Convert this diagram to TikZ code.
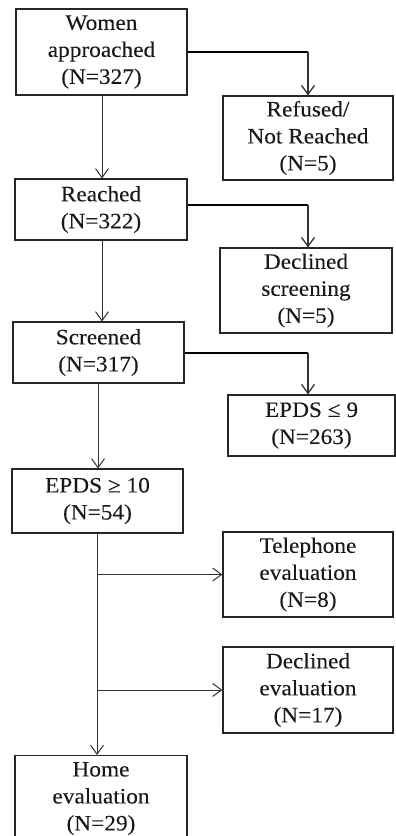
\documentclass[tikz,border=0pt]{standalone}
\usepackage{fontspec}
\setmainfont{Liberation Serif}[FakeStretch=1.06,FakeBold=0.1]
\usetikzlibrary{arrows.meta}
\begin{document}
\begin{tikzpicture}[x=1pt,y=-1pt,
  box/.style={draw=black!85, line width=1.1pt, align=center, inner sep=0pt,
    font=\fontsize{22}{27}\selectfont, text=black!90},
  flow/.style={draw=black!80, line width=1pt,
    -{Straight Barb[length=9pt,width=13pt]}},
  branch/.style={draw=black, line width=1.8pt}]
\useasboundingbox (0,0) rectangle (396,836);
\clip (0,0) rectangle (396,836);

% main column
\node[box, minimum width=171pt, minimum height=86pt] (women)    at (101.5,52)  {Women\\approached\\(N=327)};
\node[box, minimum width=172pt, minimum height=61pt] (reached)  at (101,209.5) {Reached\\(N=322)};
\node[box, minimum width=171pt, minimum height=61pt] (screened) at (98.5,352.5) {Screened\\(N=317)};
\node[box, minimum width=171pt, minimum height=64pt] (epdshi)   at (97.5,501)  {EPDS ≥ 10\\(N=54)};
\node[box, minimum width=172pt, minimum height=86pt, anchor=north] (home) at (101,755) {Home\\evaluation\\(N=29)};

% exclusions on the right
\node[box, minimum width=170pt, minimum height=84pt] (refused)  at (308,138)   {Refused/\\Not Reached\\(N=5)};
\node[box, minimum width=172pt, minimum height=85pt] (declscr)  at (306,290.5) {Declined\\screening\\(N=5)};
\node[box, minimum width=167pt, minimum height=61pt] (epdslo)   at (311.5,425.5) {EPDS ≤ 9\\(N=263)};
\node[box, minimum width=170pt, minimum height=85pt] (phone)    at (308,574.5) {Telephone\\evaluation\\(N=8)};
\node[box, minimum width=170pt, minimum height=86pt] (declev)   at (308,690)   {Declined\\evaluation\\(N=17)};

% vertical flow
\draw[flow] (women.south -| 102,0) -- (reached.north -| 102,0);
\draw[flow] (reached.south -| 102,0) -- (screened.north -| 102,0);
\draw[flow] (screened.south -| 98,0) -- (epdshi.north -| 98,0);
\draw[flow] (epdshi.south -| 97,0) -- (home.north -| 97,0);

% side branches: heavy horizontal run, then a drop into the box
\coordinate (k1) at (308,52);
\coordinate (k2) at (308,205);
\coordinate (k3) at (308,353);
\draw[branch] (women.east |- k1) -- (k1);
\draw[branch] (reached.east |- k2) -- (k2);
\draw[branch] (screened.east |- k3) -- (k3);
\draw[flow, line width=1.3pt] (k1) -- (refused.north);
\draw[flow, line width=1.3pt] (k2) -- (declscr.north -| k2);
\draw[flow, line width=1.3pt] (k3) -- (epdslo.north -| k3);

\coordinate (tap1) at (97,574.5);
\coordinate (tap2) at (97,690);
\draw[flow] (tap1) -- (phone.west);
\draw[flow] (tap2) -- (declev.west);
\end{tikzpicture}
\end{document}
